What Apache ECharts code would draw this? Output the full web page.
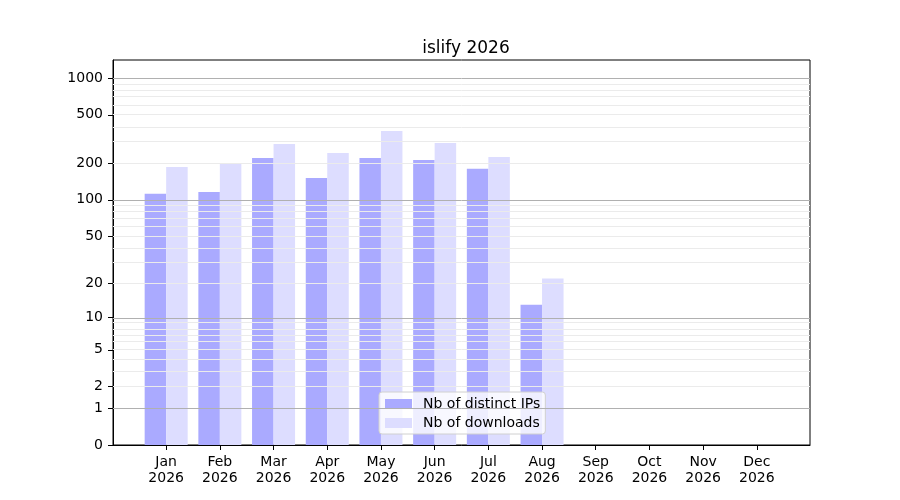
<!DOCTYPE html>
<html>
<head>
<meta charset="utf-8">
<script src="https://cdn.jsdelivr.net/npm/echarts@6/dist/echarts.min.js"></script>
<style>
  html, body { margin: 0; padding: 0; background: #fff; }
  #main { width: 900px; height: 500px; }
</style>
</head>
<body>
<div id="main"></div>
<script>
// données
var months = ['Jan', 'Feb', 'Mar', 'Apr', 'May', 'Jun', 'Jul', 'Aug', 'Sep', 'Oct', 'Nov', 'Dec'];
var year = '2026';
var distinctIps = [112, 116, 221, 151, 221, 213, 180, 13, 0, 0, 0, 0];
var downloads = [186, 198, 288, 243, 368, 293, 225, 22, 0, 0, 0, 0];
var yTicks = [0, 1, 2, 5, 10, 20, 50, 100, 200, 500, 1000];
var majorGrid = [1, 10, 100, 1000];
var minorGrid = [2, 3, 4, 5, 6, 7, 8, 9, 20, 30, 40, 50, 60, 70, 80, 90,
                 200, 300, 400, 500, 600, 700, 800, 900];

// échelle log10(1 + x), comme l'original
function fwd(v) { return Math.log10(1 + v); }

var fontFamily = 'DejaVu Sans';

var gridLines = majorGrid.map(function (v) {
    return { yAxis: fwd(v), lineStyle: { color: '#b0b0b0', width: 1, type: 'solid' } };
}).concat(minorGrid.map(function (v) {
    return { yAxis: fwd(v), lineStyle: { color: '#ebebeb', width: 1, type: 'solid' } };
}));

var chart = echarts.init(document.getElementById('main'), null, { renderer: 'canvas' });

chart.setOption({
    animation: false,
    textStyle: { fontFamily: fontFamily },
    title: {
        text: 'islify 2026',
        left: 461,
        top: 35,
        textAlign: 'center',
        textStyle: { fontFamily: fontFamily, fontSize: 17, fontWeight: 'normal', color: '#000' }
    },
    legend: {
        orient: 'vertical',
        left: 379,
        top: 392,
        padding: [5, 5, 4, 6],
        itemWidth: 27,
        itemHeight: 10,
        itemGap: 5,
        icon: 'rect',
        borderColor: '#d0d0d0',
        borderWidth: 1,
        borderRadius: 3,
        backgroundColor: 'rgba(255,255,255,0.8)',
        textStyle: { fontFamily: fontFamily, fontSize: 14, color: '#000', padding: [0, 0, 0, 6] },
        data: ['Nb of distinct IPs', 'Nb of downloads']
    },
    grid: {
        left: 113,
        right: 90,
        top: 60,
        bottom: 55,
        show: true,
        borderColor: '#000',
        borderWidth: 1,
        containLabel: false
    },
    xAxis: {
        type: 'value',
        min: -0.99,
        max: 11.99,
        axisLine: { show: true, onZero: false, lineStyle: { color: '#000', width: 1 } },
        axisTick: {
            show: true,
            length: 5,
            lineStyle: { color: '#000' },
            customValues: months.map(function (m, i) { return i; })
        },
        axisLabel: {
            color: '#000',
            fontSize: 14,
            lineHeight: 16,
            margin: 9,
            customValues: months.map(function (m, i) { return i; }),
            formatter: function (v) { return months[Math.round(v)] + '\n' + year; }
        },
        splitLine: { show: false }
    },
    yAxis: {
        type: 'value',
        min: 0,
        max: 3.1475,
        axisLine: { show: true, onZero: false, lineStyle: { color: '#000', width: 1 } },
        axisTick: {
            show: true,
            length: 5,
            lineStyle: { color: '#000' },
            customValues: yTicks.map(fwd)
        },
        axisLabel: {
            color: '#000',
            fontSize: 14,
            margin: 10,
            customValues: yTicks.map(fwd),
            formatter: function (v) {
                var raw = Math.round(Math.pow(10, v) - 1);
                return String(raw);
            }
        },
        splitLine: { show: false }
    },
    series: [
        {
            name: 'Nb of distinct IPs',
            type: 'bar',
            barWidth: 21.5,
            barGap: '0%',
            itemStyle: { color: '#aaaaff' },
            data: distinctIps.map(function (v, i) { return [i, fwd(v)]; }),
            markLine: {
                silent: true,
                symbol: 'none',
                label: { show: false },
                animation: false,
                data: gridLines
            }
        },
        {
            name: 'Nb of downloads',
            type: 'bar',
            barWidth: 21.5,
            barGap: '0%',
            itemStyle: { color: '#ddddff' },
            data: downloads.map(function (v, i) { return [i, fwd(v)]; })
        }
    ]
});
</script>
</body>
</html>
